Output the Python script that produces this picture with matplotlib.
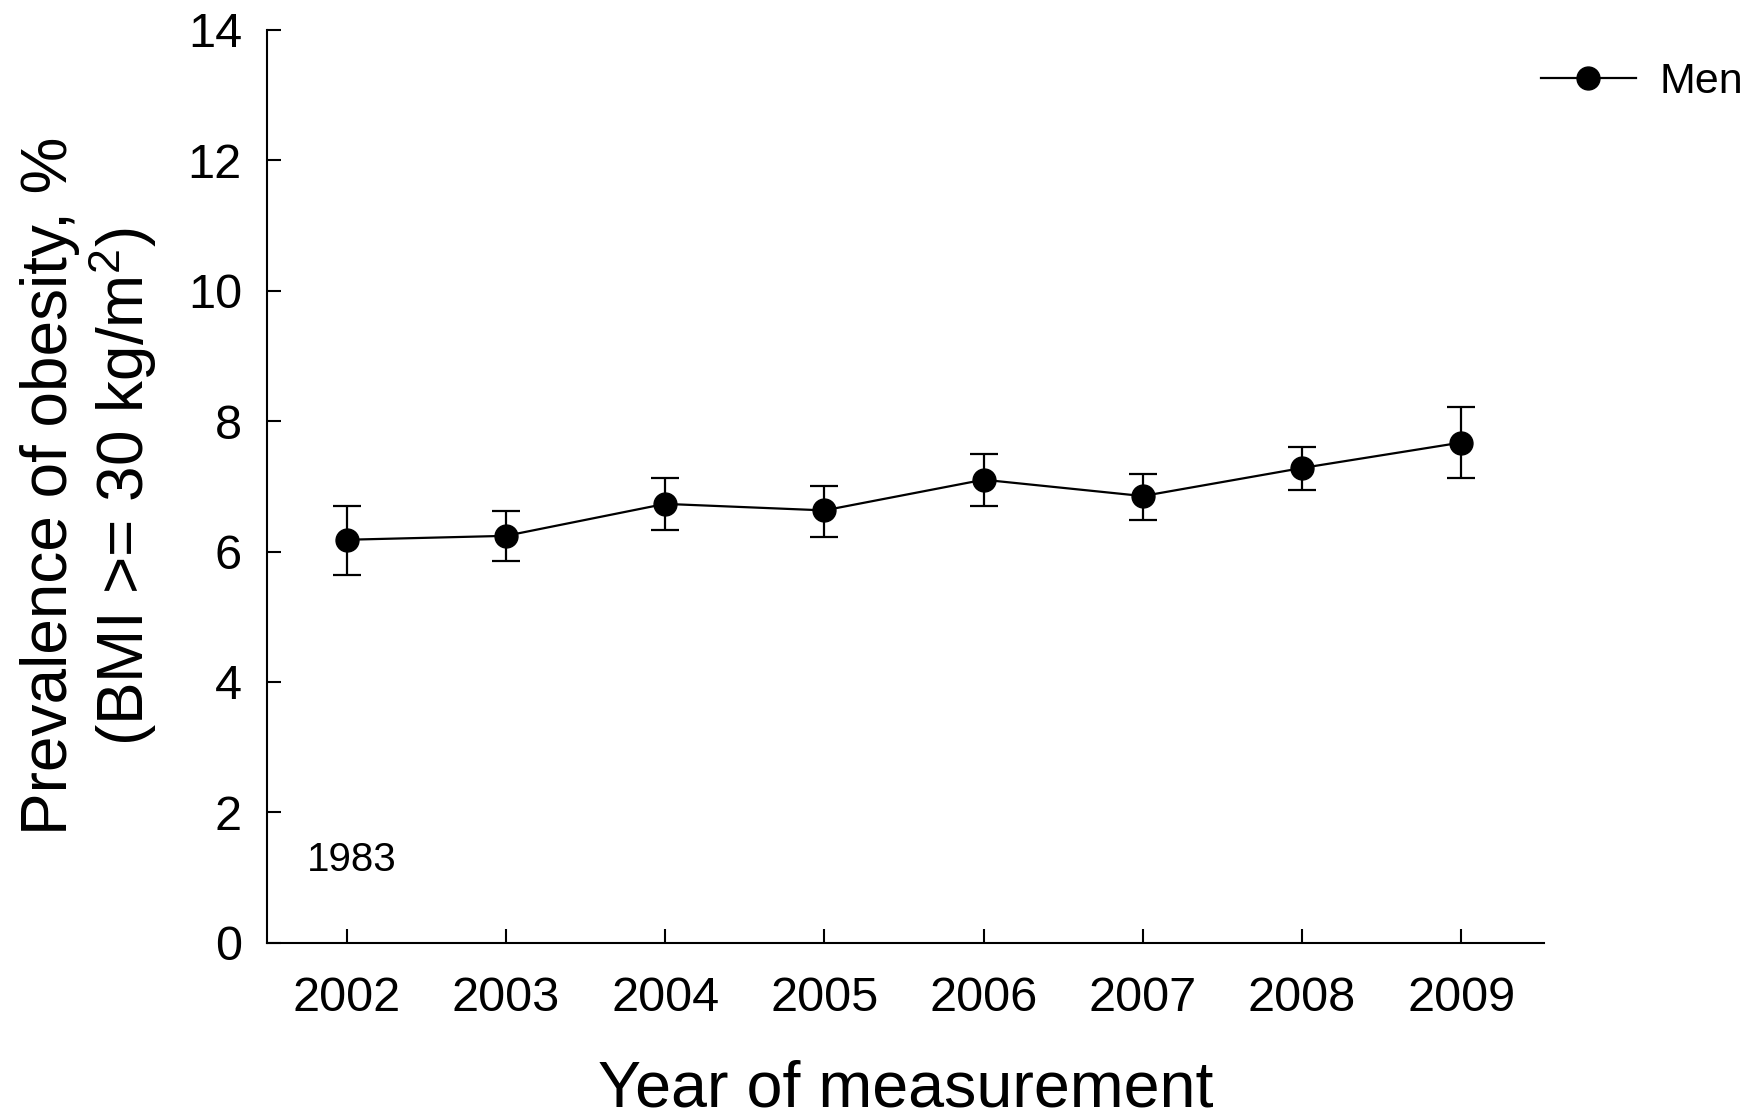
import numpy as np
import matplotlib
matplotlib.use('Agg')
import matplotlib.pyplot as plt
from matplotlib.lines import Line2D

plt.rcParams['font.family'] = ['Liberation Sans', 'DejaVu Sans']
plt.rcParams['mathtext.default'] = 'regular'

# Obesity prevalence among men, with 95% CI
years = [2002, 2003, 2004, 2005, 2006, 2007, 2008, 2009]
prevalence = [6.18, 6.24, 6.73, 6.63, 7.10, 6.85, 7.28, 7.67]
ci_low = [5.64, 5.85, 6.33, 6.23, 6.70, 6.49, 6.95, 7.13]
ci_high = [6.70, 6.62, 7.12, 7.00, 7.49, 7.19, 7.60, 8.21]
y_ticks = [0, 2, 4, 6, 8, 10, 12, 14]

prev = np.array(prevalence)
yerr = [prev - np.array(ci_low), np.array(ci_high) - prev]

fig = plt.figure(figsize=(17.6, 11.19), dpi=100)
ax = fig.add_axes([0.1517, 0.1573, 0.7256, 0.8163])

ax.errorbar(years, prevalence, yerr=yerr, color='black', marker='o',
            markersize=16.5, linewidth=1.6, elinewidth=1.6, capsize=10,
            capthick=1.6)

ax.set_xlim(2001.5, 2009.52)
ax.set_ylim(0, 14)
ax.set_xticks(years)
ax.set_yticks(y_ticks)

for side in ['top', 'right']:
    ax.spines[side].set_visible(False)
for side in ['left', 'bottom']:
    ax.spines[side].set_linewidth(1.5)

ax.tick_params(axis='both', direction='in', length=10, width=1.5, labelsize=35)
ax.tick_params(axis='y', pad=18)
ax.tick_params(axis='x', pad=24)

ax.text(2002.03, 1.27, '1983', fontsize=29, ha='center', va='center')

ax.set_xlabel('Year of measurement', fontsize=46.5)
ax.xaxis.set_label_coords(0.5, -0.128)
ax.xaxis.label.set_verticalalignment('top')

ax.set_ylabel('Prevalence of obesity, %\n(BMI >= 30 kg/m$^2$)', fontsize=46,
              linespacing=1.1)
ax.yaxis.set_label_coords(-0.139, 0.5)
ax.yaxis.label.set_verticalalignment('center')

# legend shows only line + marker, no caps
men_handle = Line2D([], [], color='black', marker='o', markersize=16.5,
                    linewidth=1.6)
fig.legend([men_handle], ['Men'], loc='center left',
           bbox_to_anchor=(0.8756, 0.927), frameon=False,
           fontsize=31, handlelength=2.2, handletextpad=0.55,
           borderpad=0, borderaxespad=0)

plt.savefig('out.png', dpi=100)
plt.close()
